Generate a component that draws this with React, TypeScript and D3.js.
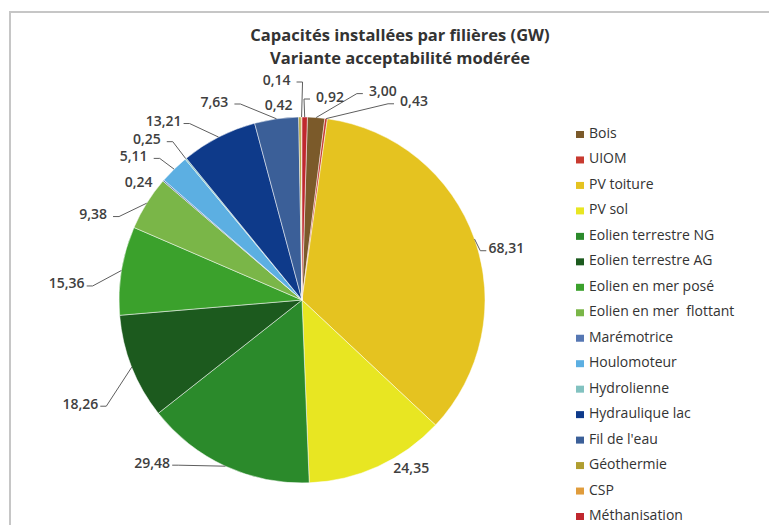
import React from 'react';
import * as d3 from 'd3';

// data (legend order)
const filieres = [
  'Bois', 'UIOM', 'PV toiture', 'PV sol',
  'Eolien terrestre NG', 'Eolien terrestre AG', 'Eolien en mer posé', 'Eolien en mer  flottant',
  'Marémotrice', 'Houlomoteur', 'Hydrolienne', 'Hydraulique lac',
  "Fil de l'eau", 'Géothermie', 'CSP', 'Méthanisation',
];
const capacites = [3.00, 0.43, 68.31, 24.35, 29.48, 18.26, 15.36, 9.38, 0.24, 5.11, 0.25, 13.21, 7.63, 0.42, 0.14, 0.92];
const couleurs = [
  '#7b5a2a', '#c83a30', '#e5c320', '#e8e622',
  '#2b8a2b', '#1c5a1e', '#3ba12c', '#7ab648',
  '#5677b3', '#5cafe2', '#82c2c0', '#0e3a8a',
  '#3b5f98', '#b09e30', '#e09c3c', '#c0282e',
];
const titre = ['Capacités installées par filières (GW)', 'Variante acceptabilité modérée'];

// label placement tweaks (Excel moved some labels by hand)
const labelNudge: [number, number][] = [
  [65, -5], [85, 4], [11, 16], [24, -19],
  [-64, -24], [-31, 28], [-33, 16], [-35, 22],
  [-8, 15], [-25, 2], [-25, -3], [-45, 3],
  [-59, 4], [-21, 9], [-25, -16], [25, 1],
];
const hasLeader = [true, true, true, false, true, true, true, true, false, true, true, true, true, false, true, true];

const W = 769, H = 525;
const cx = 302, cy = 300, r = 183;

export default function App() {
  const total = d3.sum(capacites);
  // last slice (Méthanisation) ends right at 12 o'clock
  const start = 2 * Math.PI * capacites[capacites.length - 1] / total;
  const pie = d3.pie<number>().sort(null).value(d => d)
    .startAngle(start).endAngle(start + 2 * Math.PI);
  const arcs = pie(capacites);
  const arc = d3.arc<d3.PieArcDatum<number>>().innerRadius(0).outerRadius(r);
  const fmt = (v: number) => d3.format('.2f')(v).replace('.', ',');

  const legendY = d3.scaleLinear().domain([0, filieres.length - 1]).range([138, 520]);

  const polar = (a: number, rad: number): [number, number] => [Math.sin(a) * rad, -Math.cos(a) * rad];

  return (
    <svg width={W} height={H} style={{ position: 'absolute', left: 0, top: 0, background: '#fff' }}
      fontFamily="'Open Sans', sans-serif">
      <rect x={10} y={12} width={900} height={700} fill="none" stroke="#c6c6c6" strokeWidth={2} />
      <g textAnchor="middle" fontWeight="bold" fontSize={16.5} fill="#333">
        <text x={400} y={41}>{titre[0]}</text>
        <text x={400} y={64}>{titre[1]}</text>
      </g>
      <g transform={`translate(${cx},${cy})`}>
        {arcs.map((a, i) => (
          <path key={i} d={arc(a) || ''} fill={couleurs[i]} stroke="#fff" strokeWidth={0.5} />
        ))}
        {arcs.map((a, i) => {
          const mid = (a.startAngle + a.endAngle) / 2;
          const [px, py] = polar(mid, r);
          const [dx0, dy0] = polar(mid, r + 22);
          const lx = dx0 + labelNudge[i][0];
          const ly = dy0 + labelNudge[i][1];
          const left = lx < px;
          const ex = left ? lx + 20 : lx - 20;
          const ey = ly + 3;
          const elbow = left ? ex + 6 : ex - 6;
          return (
            <g key={'l' + i}>
              {hasLeader[i] && (
                <polyline points={`${px},${py} ${elbow},${ey} ${ex},${ey}`} fill="none" stroke="#5e5e5e" strokeWidth={1} />
              )}
              <text x={lx} y={ly} textAnchor="middle" dominantBaseline="central" fontSize={14} fontWeight={600} fill="#404040">
                {fmt(capacites[i])}
              </text>
            </g>
          );
        })}
      </g>
      <g fontSize={14} fill="#333">
        {filieres.map((f, i) => (
          <g key={f} transform={`translate(576,${legendY(i)})`}>
            <rect x={0} y={-7} width={8} height={7} fill={couleurs[i]} />
            <text x={13} y={0} style={{ whiteSpace: 'pre' }}>{f}</text>
          </g>
        ))}
      </g>
    </svg>
  );
}
